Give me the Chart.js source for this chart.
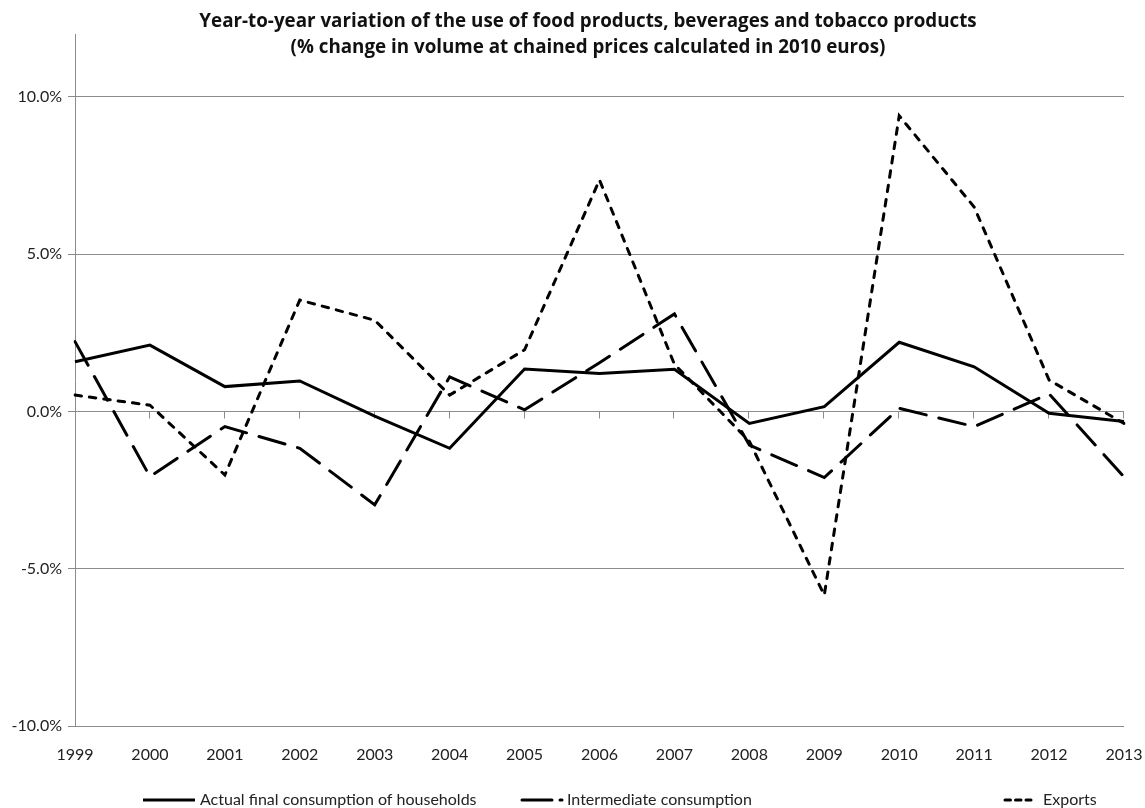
<!DOCTYPE html>
<html>
<head>
<meta charset="utf-8">
<script src="https://cdn.jsdelivr.net/npm/chart.js@4.4.0/dist/chart.umd.min.js"></script>
<style>
html,body{margin:0;padding:0;background:#ffffff;}
canvas{display:block;}
</style>
</head>
<body>
<canvas id="c" width="1145" height="808"></canvas>
<script>
const years = ['1999','2000','2001','2002','2003','2004','2005','2006','2007','2008','2009','2010','2011','2012','2013'];
const households = [1.58, 2.11, 0.79, 0.97, -0.15, -1.17, 1.35, 1.21, 1.34, -0.38, 0.15, 2.20, 1.42, -0.06, -0.32];
const intermediate = [2.22, -2.07, -0.48, -1.17, -2.97, 1.10, 0.05, 1.55, 3.10, -1.07, -2.10, 0.10, -0.48, 0.56, -2.08];
const exportsVals = [0.52, 0.20, -2.02, 3.54, 2.90, 0.52, 1.96, 7.36, 1.50, -0.95, -5.84, 9.40, 6.50, 1.00, -0.38];
const seriesNames = ['Actual final consumption of households', 'Intermediate consumption', 'Exports'];
const titleLines = ['Year-to-year variation of the use of food products, beverages and tobacco products',
                    '(% change in volume at chained prices calculated in 2010 euros)'];
const yMin = -10, yMax = 12, yStep = 5;

const FONT = 'Lato, "Open Sans", sans-serif';
const TFONT = '"Open Sans", Lato, sans-serif';
const GRID = '#8c8c8c';

const titlePlugin = {
  id: 'titleLines',
  afterDraw(chart) {
    const ctx = chart.ctx;
    ctx.save();
    ctx.fillStyle = '#111';
    ctx.textAlign = 'center';
    ctx.textBaseline = 'alphabetic';
    ctx.font = 'bold 18.8px ' + TFONT;
    ctx.fillText(titleLines[0], 588, 27);
    ctx.fillText(titleLines[1], 588, 53);
    ctx.restore();
  }
};

const zeroAxisPlugin = {
  id: 'zeroAxis',
  beforeDatasetsDraw(chart) {
    const ctx = chart.ctx;
    const xs = chart.scales.x, ys = chart.scales.y;
    const y0 = Math.round(ys.getPixelForValue(0)) + 0.5;
    ctx.save();
    ctx.strokeStyle = GRID;
    ctx.lineWidth = 1;
    ctx.beginPath();
    for (let i = 1; i < years.length; i++) {
      const x = Math.round(xs.getPixelForValue(i)) - 0.5;
      ctx.moveTo(x, y0);
      ctx.lineTo(x, y0 + 7);
    }
    ctx.stroke();
    ctx.restore();
  }
};

const legendPlugin = {
  id: 'customLegend',
  afterDraw(chart) {
    const ctx = chart.ctx;
    const items = [
      {x0: 143, x1: 195, tx: 200},
      {x0: 522, x1: 562, tx: 567},
      {x0: 1005, x1: 1031, tx: 1043}
    ];
    const y = 800;
    ctx.save();
    chart.data.datasets.forEach((ds, i) => {
      const it = items[i];
      ctx.strokeStyle = ds.borderColor;
      ctx.lineWidth = ds.borderWidth;
      ctx.lineCap = ds.borderCapStyle || 'butt';
      ctx.setLineDash(ds.legendDash || ds.borderDash || []);
      ctx.beginPath();
      ctx.moveTo(it.x0, y);
      ctx.lineTo(it.x1, y);
      ctx.stroke();
      ctx.setLineDash([]);
      ctx.fillStyle = '#222';
      ctx.font = '16px ' + FONT;
      ctx.textAlign = 'left';
      ctx.textBaseline = 'middle';
      ctx.fillText(ds.label, it.tx, y);
    });
    ctx.restore();
  }
};

new Chart(document.getElementById('c'), {
  type: 'line',
  data: {
    labels: years,
    datasets: [
      {label: seriesNames[0], data: households, borderColor: '#000', borderWidth: 3,
       borderCapStyle: 'butt', pointRadius: 0, tension: 0, fill: false},
      {label: seriesNames[1], data: intermediate, borderColor: '#000', borderWidth: 3,
       borderDash: [27, 13], legendDash: [30, 8], borderCapStyle: 'round', pointRadius: 0, tension: 0, fill: false},
      {label: seriesNames[2], data: exportsVals, borderColor: '#000', borderWidth: 3,
       borderDash: [6.5, 8], legendDash: [5.5, 5], borderCapStyle: 'round', pointRadius: 0, tension: 0, fill: false}
    ]
  },
  options: {
    responsive: false,
    animation: false,
    devicePixelRatio: 1,
    layout: {padding: {left: 0, right: 0, top: 34, bottom: 0}},
    plugins: {legend: {display: false}, title: {display: false}, tooltip: {enabled: false}},
    scales: {
      x: {
        type: 'category',
        offset: false,
        grid: {display: false, drawTicks: false},
        border: {display: false},
        ticks: {padding: 19, color: '#222', font: {family: FONT, size: 16}, maxRotation: 0, autoSkip: false},
        afterFit(s) { s.height = 82; s.paddingRight = 21; s.paddingLeft = 0; }
      },
      y: {
        min: yMin, max: yMax,
        grid: {color: GRID, lineWidth: 1, tickLength: 7, drawTicks: true},
        border: {display: true, color: GRID, width: 1},
        ticks: {stepSize: yStep, padding: 6, color: '#222', font: {family: FONT, size: 16},
                callback: v => v.toFixed(1) + '%'},
        afterBuildTicks(s) { s.ticks = s.ticks.filter(t => Math.abs(t.value / yStep - Math.round(t.value / yStep)) < 1e-9); },
        afterFit(s) { s.width = 75; }
      }
    }
  },
  plugins: [zeroAxisPlugin, titlePlugin, legendPlugin]
});
</script>
</body>
</html>
